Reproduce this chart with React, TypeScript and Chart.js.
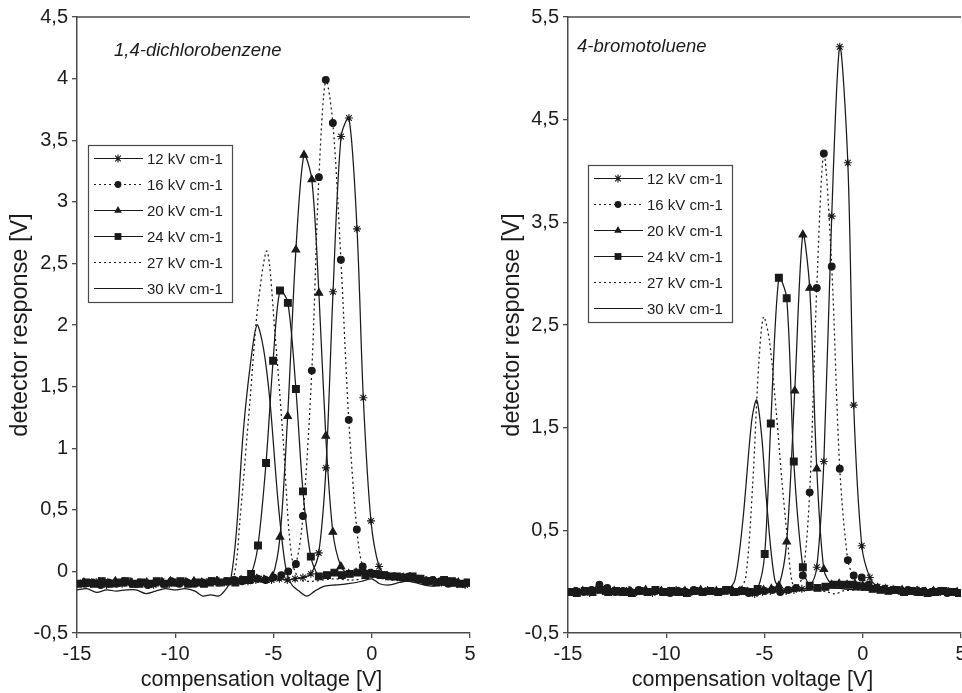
import React, { useEffect, useRef } from 'react';
import { Chart, registerables } from 'chart.js';

Chart.register(...registerables);

type P = [number, number];

// ---------- shared labels & ticks ----------
const seriesLabels = ['12 kV cm-1', '16 kV cm-1', '20 kV cm-1', '24 kV cm-1', '27 kV cm-1', '30 kV cm-1'];
const xTickValues = [-15, -10, -5, 0, 5];
const leftYTickValues = [-0.5, 0, 0.5, 1, 1.5, 2, 2.5, 3, 3.5, 4, 4.5];
const rightYTickValues = [-0.5, 0.5, 1.5, 2.5, 3.5, 4.5, 5.5];
const leftCompound = '1,4-dichlorobenzene';
const rightCompound = '4-bromotoluene';
const xTitle = 'compensation voltage [V]';
const yTitle = 'detector response [V]';

// ---------- 1,4-dichlorobenzene ----------
const dcb12: P[] = [[-14.7,-0.09],[-14.3,-0.1],[-13.9,-0.08],[-13.5,-0.11],[-13.1,-0.09],[-12.7,-0.1],[-12.3,-0.08],[-11.9,-0.1],[-11.5,-0.09],[-11.1,-0.11],[-10.7,-0.08],[-10.3,-0.1],[-9.9,-0.09],[-9.5,-0.08],[-9.1,-0.1],[-8.7,-0.09],[-8.3,-0.08],[-7.9,-0.07],[-7.5,-0.09],[-7.1,-0.08],[-6.7,-0.07],[-6.3,-0.08],[-5.9,-0.07],[-5.5,-0.06],[-5.1,-0.07],[-4.7,-0.06],[-4.3,-0.07],[-3.9,-0.06],[-3.5,-0.05],[-3.1,-0.02],[-2.7,0.15],[-2.33,0.84],[-1.97,2.27],[-1.56,3.53],[-1.16,3.68],[-0.75,2.78],[-0.43,1.41],[-0.04,0.41],[0.37,0.04],[0.75,-0.03],[1.15,-0.04],[1.55,-0.05],[1.95,-0.04],[2.35,-0.06],[2.75,-0.07],[3.15,-0.08],[3.55,-0.09],[3.95,-0.08],[4.35,-0.1],[4.75,-0.11]];
const dcb16: P[] = [[-14.6,-0.1],[-14.2,-0.09],[-13.8,-0.11],[-13.4,-0.09],[-13.0,-0.1],[-12.6,-0.08],[-12.2,-0.1],[-11.8,-0.09],[-11.4,-0.11],[-11.0,-0.09],[-10.6,-0.1],[-10.2,-0.08],[-9.8,-0.1],[-9.4,-0.09],[-9.0,-0.1],[-8.6,-0.09],[-8.2,-0.08],[-7.8,-0.09],[-7.4,-0.08],[-7.0,-0.07],[-6.6,-0.08],[-6.2,-0.07],[-5.8,-0.06],[-5.4,-0.07],[-5.0,-0.05],[-4.6,-0.03],[-4.25,0.0],[-3.86,0.06],[-3.5,0.45],[-3.05,1.63],[-2.69,3.2],[-2.34,3.99],[-1.98,3.64],[-1.57,2.53],[-1.17,1.23],[-0.76,0.34],[-0.46,0.04],[-0.06,-0.01],[0.3,-0.02],[0.7,-0.03],[1.1,-0.04],[1.5,-0.05],[1.9,-0.04],[2.3,-0.06],[2.7,-0.08],[3.1,-0.07],[3.5,-0.08],[3.9,-0.1],[4.3,-0.09],[4.7,-0.1]];
const dcb20: P[] = [[-14.65,-0.09],[-14.25,-0.1],[-13.85,-0.09],[-13.45,-0.1],[-13.05,-0.08],[-12.65,-0.1],[-12.25,-0.09],[-11.85,-0.11],[-11.45,-0.09],[-11.05,-0.1],[-10.65,-0.09],[-10.25,-0.08],[-9.85,-0.1],[-9.45,-0.09],[-9.05,-0.08],[-8.65,-0.09],[-8.25,-0.1],[-7.85,-0.08],[-7.45,-0.09],[-7.05,-0.08],[-6.65,-0.07],[-6.25,-0.08],[-5.85,-0.06],[-5.45,-0.07],[-5.05,-0.04],[-4.67,0.28],[-4.28,1.26],[-3.86,2.61],[-3.45,3.38],[-3.05,3.18],[-2.69,2.26],[-2.34,1.1],[-1.98,0.32],[-1.57,0.04],[-1.17,-0.02],[-0.8,-0.01],[-0.4,0.0],[0.0,-0.02],[0.4,-0.03],[0.8,-0.04],[1.2,-0.05],[1.6,-0.05],[2.0,-0.06],[2.4,-0.07],[2.8,-0.08],[3.2,-0.08],[3.6,-0.09],[4.0,-0.1],[4.4,-0.09],[4.8,-0.1]];
const dcb24: P[] = [[-14.94,-0.1],[-14.54,-0.09],[-14.14,-0.1],[-13.74,-0.08],[-13.34,-0.1],[-12.94,-0.09],[-12.54,-0.08],[-12.14,-0.1],[-11.74,-0.09],[-11.34,-0.1],[-10.94,-0.08],[-10.54,-0.1],[-10.14,-0.09],[-9.74,-0.08],[-9.34,-0.1],[-8.94,-0.09],[-8.54,-0.1],[-8.14,-0.08],[-7.74,-0.09],[-7.34,-0.08],[-6.94,-0.09],[-6.54,-0.07],[-6.14,-0.02],[-5.79,0.21],[-5.38,0.88],[-5.02,1.71],[-4.67,2.28],[-4.27,2.18],[-3.86,1.48],[-3.5,0.65],[-3.1,0.12],[-2.69,-0.04],[-2.28,-0.03],[-1.9,-0.01],[-1.52,-0.03],[-1.12,-0.02],[-0.72,-0.01],[-0.32,-0.03],[0.08,-0.02],[0.48,-0.03],[0.88,-0.04],[1.28,-0.04],[1.68,-0.05],[2.08,-0.04],[2.48,-0.06],[2.88,-0.08],[3.28,-0.09],[3.68,-0.07],[4.08,-0.08],[4.48,-0.1],[4.88,-0.09]];
const dcb27: P[] = [[-15,-0.1],[-14,-0.09],[-13,-0.1],[-12,-0.09],[-11,-0.1],[-10,-0.09],[-9,-0.1],[-8,-0.09],[-7.4,-0.08],[-7.0,-0.03],[-6.7,0.43],[-6.2,1.38],[-5.8,2.15],[-5.33,2.6],[-4.92,1.92],[-4.5,1.05],[-4.2,0.3],[-3.95,0.02],[-3.6,-0.07],[-3.0,-0.08],[-2.0,-0.06],[-1.0,-0.07],[0,-0.05],[1.0,-0.07],[2,-0.08],[3,-0.09],[4,-0.1],[5,-0.1]];
const dcb30: P[] = [[-15,-0.15],[-14.5,-0.14],[-14,-0.17],[-13.5,-0.15],[-13,-0.16],[-12.5,-0.15],[-12,-0.15],[-11.5,-0.18],[-11,-0.16],[-10.5,-0.14],[-10,-0.15],[-9.5,-0.14],[-9,-0.16],[-8.6,-0.2],[-8.2,-0.19],[-7.8,-0.2],[-7.5,-0.16],[-7.2,-0.08],[-6.9,0.3],[-6.55,1.11],[-6.2,1.65],[-5.84,2.0],[-5.5,1.8],[-5.18,1.38],[-4.77,0.57],[-4.4,0.05],[-4.1,-0.1],[-3.7,-0.16],[-3.3,-0.2],[-2.9,-0.16],[-2.4,-0.12],[-1.8,-0.11],[-1.2,-0.1],[-0.5,-0.08],[0,-0.06],[0.4,-0.1],[0.9,-0.11],[1.4,-0.09],[1.9,-0.08],[2.4,-0.1],[3,-0.12],[3.5,-0.11],[4,-0.12],[4.5,-0.11],[5,-0.12]];

// ---------- 4-bromotoluene ----------
const bt12: P[] = [[-14.7,-0.1],[-14.3,-0.09],[-13.9,-0.11],[-13.5,-0.08],[-13.1,-0.1],[-12.7,-0.09],[-12.3,-0.1],[-11.9,-0.08],[-11.5,-0.1],[-11.1,-0.09],[-10.7,-0.11],[-10.3,-0.09],[-9.9,-0.1],[-9.5,-0.08],[-9.1,-0.09],[-8.7,-0.1],[-8.3,-0.09],[-7.9,-0.08],[-7.5,-0.1],[-7.1,-0.09],[-6.7,-0.08],[-6.3,-0.1],[-5.9,-0.09],[-5.5,-0.12],[-5.1,-0.1],[-4.7,-0.09],[-4.3,-0.08],[-3.9,-0.09],[-3.5,-0.08],[-3.1,-0.07],[-2.7,-0.05],[-2.34,0.14],[-1.98,1.17],[-1.58,3.56],[-1.17,5.21],[-0.76,4.08],[-0.46,1.72],[-0.05,0.35],[0.36,0.04],[0.75,-0.05],[1.15,-0.06],[1.55,-0.07],[1.95,-0.08],[2.35,-0.09],[2.75,-0.08],[3.15,-0.1],[3.55,-0.09],[3.95,-0.1],[4.35,-0.09],[4.75,-0.11]];
const bt16: P[] = [[-14.6,-0.09],[-14.2,-0.1],[-13.8,-0.08],[-13.4,-0.03],[-13.0,-0.06],[-12.6,-0.1],[-12.2,-0.09],[-11.8,-0.1],[-11.4,-0.08],[-11.0,-0.1],[-10.6,-0.09],[-10.2,-0.1],[-9.8,-0.11],[-9.4,-0.09],[-9.0,-0.1],[-8.6,-0.08],[-8.2,-0.1],[-7.8,-0.09],[-7.4,-0.1],[-7.0,-0.08],[-6.6,-0.1],[-6.2,-0.09],[-5.8,-0.11],[-5.4,-0.1],[-5.0,-0.09],[-4.6,-0.08],[-4.2,-0.1],[-3.8,-0.08],[-3.4,-0.06],[-3.05,0.06],[-2.7,0.87],[-2.34,2.86],[-1.98,4.17],[-1.58,3.07],[-1.17,1.1],[-0.76,0.21],[-0.46,0.06],[-0.05,0.04],[0.3,-0.03],[0.7,-0.06],[1.1,-0.07],[1.5,-0.08],[1.9,-0.09],[2.3,-0.08],[2.7,-0.1],[3.1,-0.09],[3.5,-0.1],[3.9,-0.09],[4.3,-0.11],[4.7,-0.1]];
const bt20: P[] = [[-14.65,-0.1],[-14.25,-0.09],[-13.85,-0.1],[-13.45,-0.08],[-13.05,-0.1],[-12.65,-0.09],[-12.25,-0.11],[-11.85,-0.09],[-11.45,-0.1],[-11.05,-0.08],[-10.65,-0.1],[-10.25,-0.09],[-9.85,-0.1],[-9.45,-0.11],[-9.05,-0.09],[-8.65,-0.1],[-8.25,-0.08],[-7.85,-0.1],[-7.45,-0.09],[-7.05,-0.1],[-6.65,-0.08],[-6.25,-0.09],[-5.85,-0.1],[-5.45,-0.09],[-5.05,-0.08],[-4.65,-0.07],[-4.27,-0.04],[-3.87,0.39],[-3.46,1.86],[-3.05,3.38],[-2.7,2.86],[-2.34,1.1],[-1.98,0.12],[-1.58,-0.03],[-1.2,-0.02],[-0.8,-0.03],[-0.4,-0.02],[0.0,-0.04],[0.4,-0.06],[0.8,-0.07],[1.2,-0.08],[1.6,-0.09],[2.0,-0.08],[2.4,-0.1],[2.8,-0.09],[3.2,-0.1],[3.6,-0.09],[4.0,-0.1],[4.4,-0.11],[4.8,-0.1]];
const bt24: P[] = [[-14.95,-0.1],[-14.55,-0.11],[-14.15,-0.09],[-13.75,-0.1],[-13.35,-0.08],[-12.95,-0.1],[-12.55,-0.09],[-12.15,-0.1],[-11.75,-0.11],[-11.35,-0.09],[-10.95,-0.1],[-10.55,-0.08],[-10.15,-0.1],[-9.75,-0.09],[-9.35,-0.1],[-8.95,-0.11],[-8.55,-0.09],[-8.15,-0.1],[-7.75,-0.09],[-7.35,-0.1],[-6.95,-0.08],[-6.55,-0.1],[-6.15,-0.09],[-5.75,-0.1],[-5.35,-0.07],[-4.99,0.27],[-4.68,1.54],[-4.27,2.96],[-3.87,2.76],[-3.51,1.17],[-3.05,0.14],[-2.7,-0.04],[-2.3,-0.06],[-1.9,-0.05],[-1.5,-0.03],[-1.1,-0.03],[-0.7,-0.03],[-0.3,-0.04],[0.1,-0.05],[0.5,-0.07],[0.9,-0.08],[1.3,-0.09],[1.7,-0.08],[2.1,-0.1],[2.5,-0.09],[2.9,-0.1],[3.3,-0.11],[3.7,-0.1],[4.1,-0.09],[4.5,-0.1],[4.9,-0.11]];
const bt27: P[] = [[-15,-0.09],[-14,-0.1],[-13,-0.09],[-12,-0.1],[-11,-0.09],[-10,-0.1],[-9,-0.09],[-8,-0.1],[-7,-0.09],[-6.3,-0.08],[-5.95,0.05],[-5.6,0.95],[-5.3,2.1],[-5.05,2.58],[-4.75,2.35],[-4.4,1.65],[-4.1,0.95],[-3.85,0.45],[-3.6,0.0],[-3.3,-0.08],[-2.5,-0.08],[-1.8,-0.1],[-1.4,-0.12],[-1.0,-0.09],[0,-0.08],[1,-0.09],[2,-0.1],[3,-0.09],[4,-0.1],[5,-0.1]];
const bt30: P[] = [[-15,-0.1],[-14,-0.09],[-13,-0.1],[-12,-0.1],[-11,-0.09],[-10,-0.1],[-9,-0.1],[-8,-0.09],[-7.4,-0.1],[-6.9,-0.08],[-6.5,0.02],[-6.1,0.6],[-5.65,1.57],[-5.4,1.77],[-5.14,1.41],[-4.89,0.77],[-4.48,0.02],[-4.1,-0.08],[-3.5,-0.09],[-2.5,-0.08],[-1.5,-0.06],[-1.0,-0.07],[-0.3,-0.08],[0.5,-0.08],[1.5,-0.09],[2.5,-0.1],[3.5,-0.09],[4.5,-0.1],[5,-0.1]];

const dcbSeries = [dcb12, dcb16, dcb20, dcb24, dcb27, dcb30];
const btSeries = [bt12, bt16, bt20, bt24, bt27, bt30];

// ---------- styling (not data) ----------
const FONT = '"Liberation Sans", Arial, Helvetica, sans-serif';
const TEXT = '#1c1c1c';
const AXIS = '#4a4a4a';
const LINE = '#1a1a1a';
const markerStyles = [
  { pointStyle: 'star', radius: 4, dash: [] as number[] },
  { pointStyle: 'circle', radius: 3.4, dash: [2, 3] },
  { pointStyle: 'triangle', radius: 4.4, dash: [] as number[] },
  { pointStyle: 'rect', radius: 4.8, dash: [] as number[] },
  { pointStyle: 'circle', radius: 0, dash: [2, 3] },
  { pointStyle: 'circle', radius: 0, dash: [] as number[] },
];

const fmt = (v: number) => String(v).replace('.', ',');

function drawMarker(ctx: CanvasRenderingContext2D, style: string, x: number, y: number, r: number) {
  if (r <= 0) return;
  ctx.beginPath();
  if (style === 'circle') {
    ctx.arc(x, y, r, 0, Math.PI * 2);
    ctx.fill();
  } else if (style === 'rect') {
    const s = r * Math.SQRT1_2;
    ctx.fillRect(x - s, y - s, 2 * s, 2 * s);
  } else if (style === 'triangle') {
    let a = 0;
    ctx.moveTo(x + Math.sin(a) * r, y - Math.cos(a) * r);
    a += (2 * Math.PI) / 3;
    ctx.lineTo(x + Math.sin(a) * r, y - Math.cos(a) * r);
    a += (2 * Math.PI) / 3;
    ctx.lineTo(x + Math.sin(a) * r, y - Math.cos(a) * r);
    ctx.closePath();
    ctx.fill();
  } else if (style === 'star') {
    for (let k = 0; k < 4; k++) {
      const a = (k * Math.PI) / 4;
      ctx.moveTo(x - Math.cos(a) * r, y - Math.sin(a) * r);
      ctx.lineTo(x + Math.cos(a) * r, y + Math.sin(a) * r);
    }
    ctx.stroke();
  }
}

const decorPlugin = {
  id: 'decor',
  afterDraw(chart: any, _args: any, o: any) {
    const { ctx, chartArea: ca } = chart;
    ctx.save();
    // top frame line
    ctx.strokeStyle = AXIS;
    ctx.lineWidth = 1.5;
    ctx.beginPath();
    ctx.moveTo(ca.left, ca.top);
    ctx.lineTo(ca.right, ca.top);
    ctx.stroke();
    // compound name
    ctx.fillStyle = TEXT;
    ctx.font = `italic 18.5px ${FONT}`;
    ctx.textAlign = 'left';
    ctx.textBaseline = 'alphabetic';
    ctx.fillText(o.name, ca.left + o.nameDx, o.nameY);
    // x axis title
    ctx.font = `21.5px ${FONT}`;
    ctx.textAlign = 'center';
    ctx.textBaseline = 'middle';
    ctx.fillText(o.xTitle, (ca.left + ca.right) / 2 + o.xTitleDx, o.xTitleY);
    // legend box
    const bx = ca.left + o.legDx;
    const by = ca.top + o.legDy;
    const bw = 144;
    const bh = 157;
    ctx.fillStyle = '#ffffff';
    ctx.fillRect(bx, by, bw, bh);
    ctx.strokeStyle = AXIS;
    ctx.lineWidth = 1.2;
    ctx.strokeRect(bx + 0.5, by + 0.5, bw, bh);
    chart.data.datasets.forEach((ds: any, i: number) => {
      const cy = by + 13.5 + i * 26;
      const st = markerStyles[i];
      ctx.strokeStyle = LINE;
      ctx.lineWidth = 1.2;
      ctx.setLineDash(st.dash);
      ctx.beginPath();
      ctx.moveTo(bx + 6, cy);
      ctx.lineTo(bx + 55, cy);
      ctx.stroke();
      ctx.setLineDash([]);
      ctx.fillStyle = LINE;
      drawMarker(ctx, st.pointStyle, bx + 30, cy, st.radius);
      ctx.fillStyle = TEXT;
      ctx.font = `15px ${FONT}`;
      ctx.textAlign = 'left';
      ctx.textBaseline = 'middle';
      ctx.fillText(ds.label, bx + 59, cy + 1);
    });
    ctx.restore();
  },
};

function buildConfig(series: P[][], yTicks: number[], yAxisWidth: number, padRight: number, titlePad: number, decor: any): any {
  const yMin = yTicks[0];
  const yMax = yTicks[yTicks.length - 1];
  return {
    type: 'line',
    data: {
      datasets: series.map((pts, i) => ({
        label: seriesLabels[i],
        data: pts.map(([x, y]) => ({ x, y })),
        borderColor: LINE,
        backgroundColor: LINE,
        borderWidth: 1.25,
        borderDash: markerStyles[i].dash,
        pointStyle: markerStyles[i].pointStyle,
        pointRadius: markerStyles[i].radius,
        pointBorderWidth: 1.1,
        pointBorderColor: LINE,
        pointBackgroundColor: LINE,
        tension: 0.3,
        fill: false,
      })),
    },
    options: {
      responsive: false,
      animation: false,
      events: [],
      layout: { padding: { top: 17, right: padRight, bottom: 0, left: 0 } },
      plugins: {
        legend: { display: false },
        tooltip: { enabled: false },
        decor,
      },
      scales: {
        x: {
          type: 'linear',
          min: xTickValues[0],
          max: xTickValues[xTickValues.length - 1],
          afterBuildTicks: (s: any) => { s.ticks = xTickValues.map((v) => ({ value: v })); },
          afterFit: (s: any) => { s.height = 60; },
          ticks: { callback: (v: number) => fmt(v), color: TEXT, font: { family: FONT, size: 20 }, padding: 4, maxRotation: 0 },
          grid: { display: true, drawOnChartArea: false, drawTicks: true, tickLength: 5, color: AXIS, lineWidth: 1.3 },
          border: { display: true, color: AXIS, width: 1.5 },
        },
        y: {
          type: 'linear',
          min: yMin,
          max: yMax,
          afterBuildTicks: (s: any) => { s.ticks = yTicks.map((v) => ({ value: v })); },
          afterFit: (s: any) => { s.width = yAxisWidth; },
          ticks: { callback: (v: number) => fmt(v), color: TEXT, font: { family: FONT, size: 20 }, padding: 4 },
          grid: { display: true, drawOnChartArea: false, drawTicks: true, tickLength: 5, color: AXIS, lineWidth: 1.3 },
          border: { display: true, color: AXIS, width: 1.5 },
          title: { display: true, text: yTitle, color: TEXT, font: { family: FONT, size: 23.5 }, padding: { top: titlePad, bottom: 0 } },
        },
      },
    },
    plugins: [decorPlugin],
  };
}

export default function App() {
  const leftRef = useRef<HTMLCanvasElement>(null);
  const rightRef = useRef<HTMLCanvasElement>(null);

  useEffect(() => {
    const charts: Chart[] = [];
    if (leftRef.current) {
      charts.push(new Chart(leftRef.current, buildConfig(dcbSeries, leftYTickValues, 77, 20, 6, {
        name: leftCompound, nameDx: 37, nameY: 56, xTitle, xTitleDx: -12, xTitleY: 680, legDx: 11, legDy: 128,
      })));
    }
    if (rightRef.current) {
      charts.push(new Chart(rightRef.current, buildConfig(btSeries, rightYTickValues, 78, 19, 8, {
        name: rightCompound, nameDx: 9, nameY: 52, xTitle, xTitleDx: -12, xTitleY: 680, legDx: 20, legDy: 148,
      })));
    }
    return () => charts.forEach((c) => c.destroy());
  }, []);

  return (
    <div style={{ position: 'fixed', left: 0, top: 0, width: 962, height: 693, overflow: 'hidden', background: '#ffffff' }}>
      <canvas ref={leftRef} width={490} height={693} style={{ position: 'absolute', left: 0, top: 0 }} />
      <canvas ref={rightRef} width={490} height={693} style={{ position: 'absolute', left: 490, top: 0 }} />
    </div>
  );
}
